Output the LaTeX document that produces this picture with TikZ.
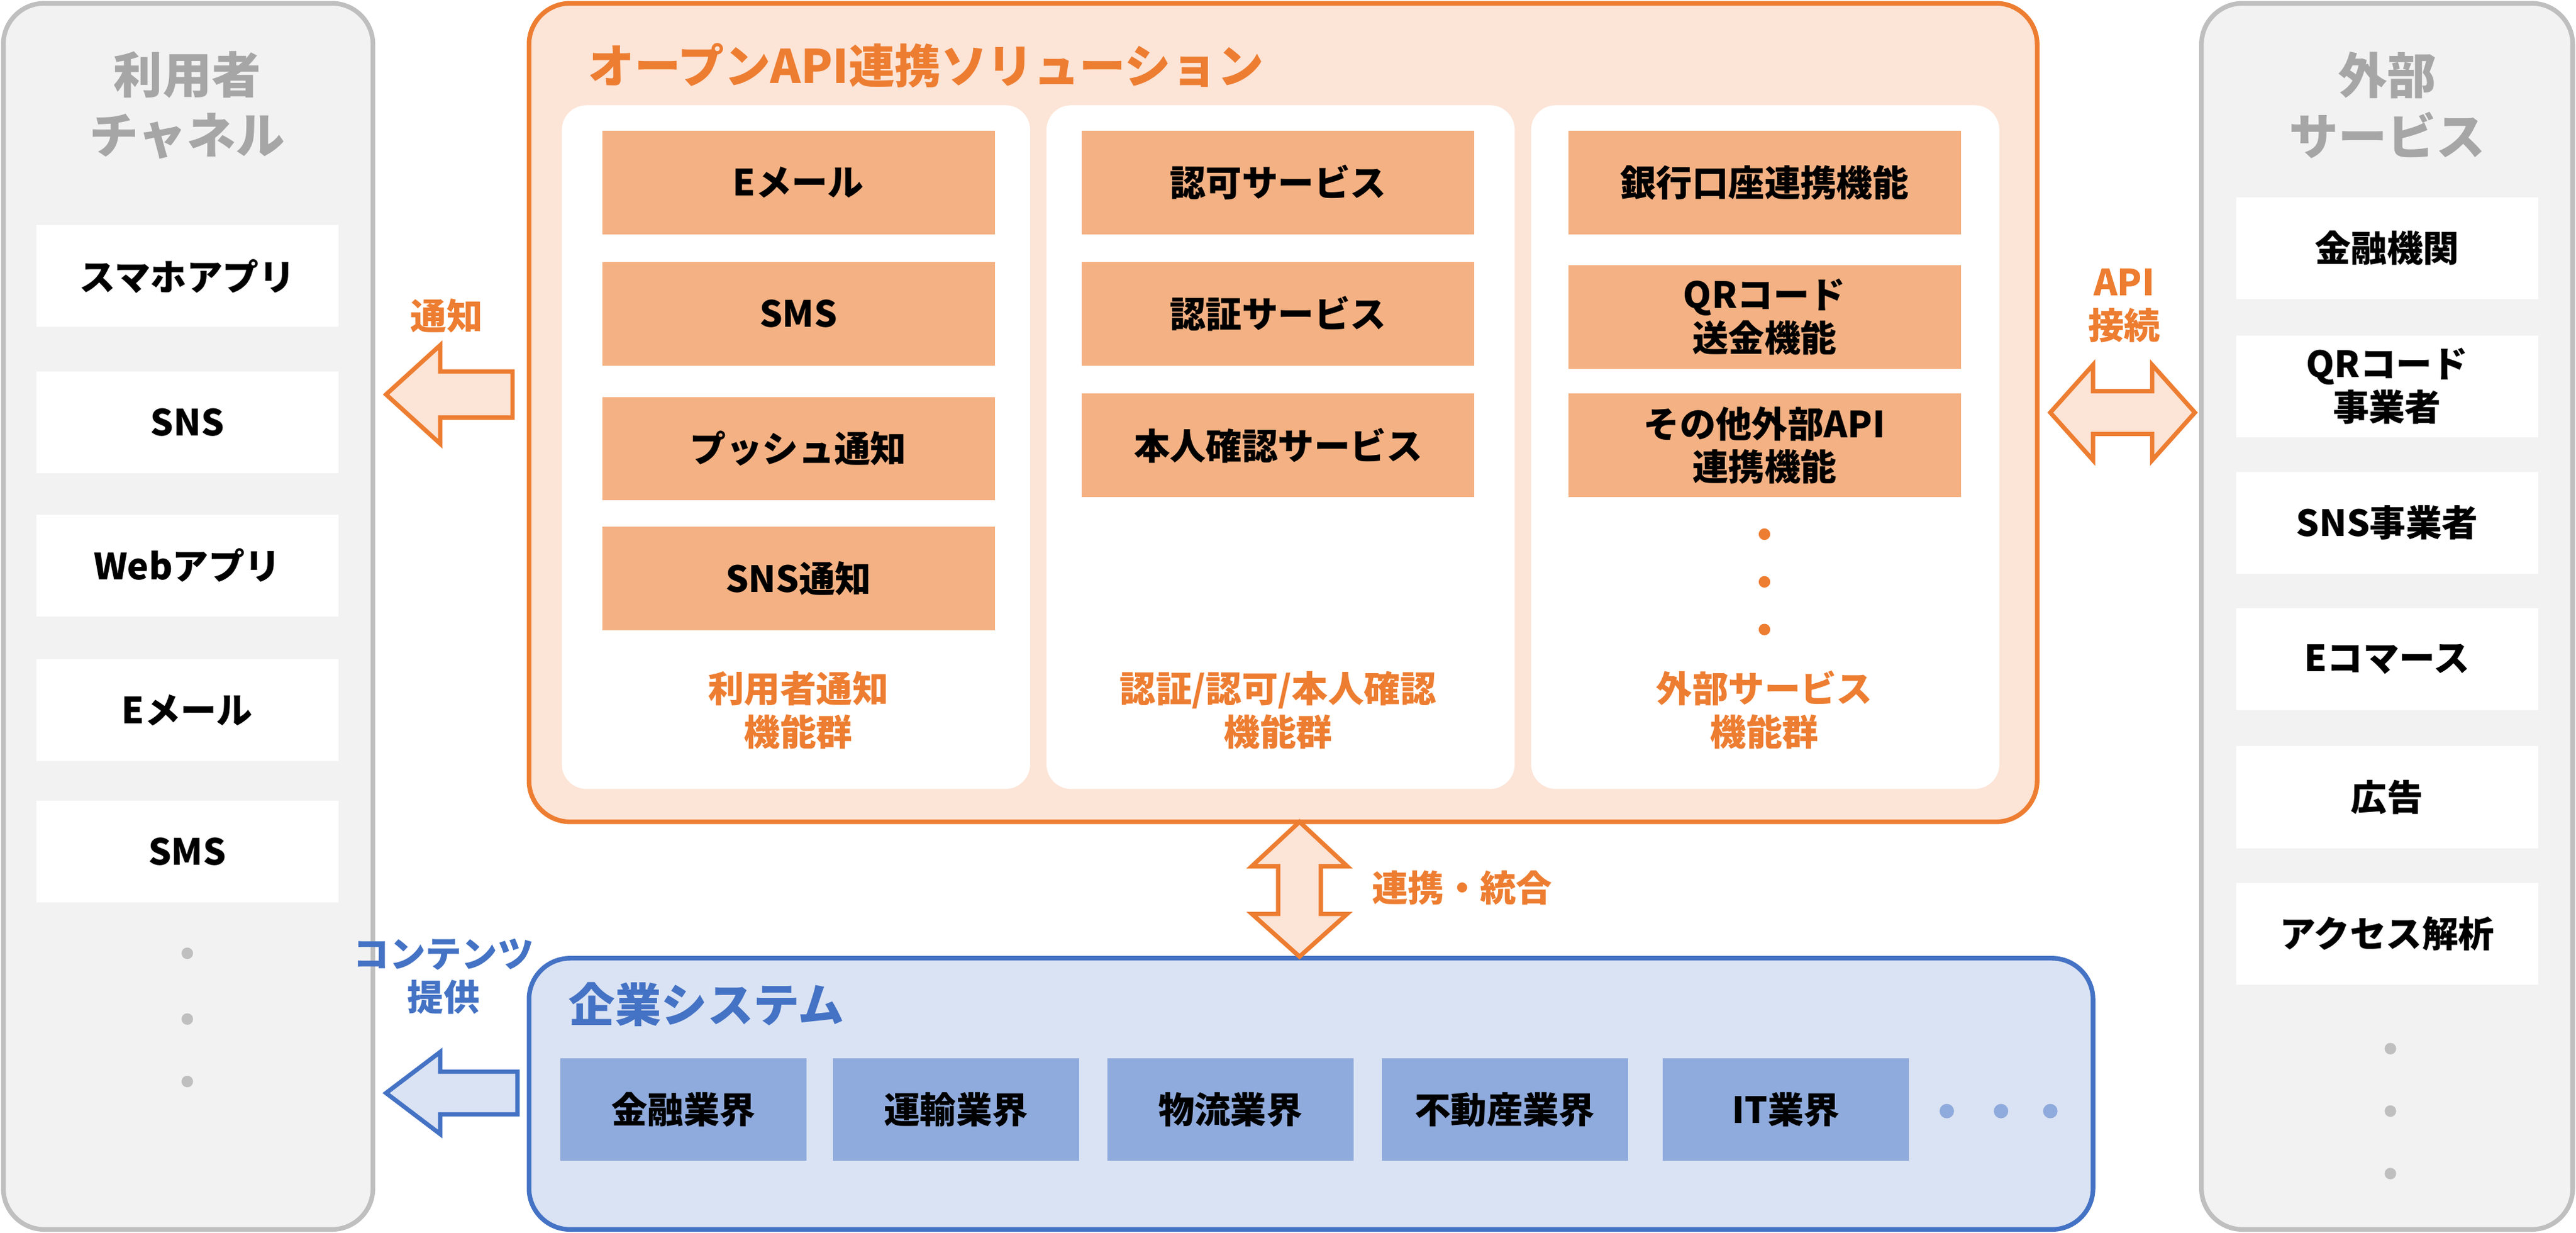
\documentclass[tikz,border=0pt]{standalone}
\usepackage{fontspec}
\setmainfont{Noto Sans CJK JP}
\begin{document}
\begin{tikzpicture}[x=0.02cm,y=-0.02cm,font=\bfseries]
\definecolor{og}{HTML}{ED7D31}\definecolor{ogl}{HTML}{FCE4D6}\definecolor{ogb}{HTML}{F4B183}
\definecolor{bl}{HTML}{4472C4}\definecolor{bll}{HTML}{DAE3F3}\definecolor{blb}{HTML}{8FAADC}
\definecolor{gr}{HTML}{BFBFBF}\definecolor{grl}{HTML}{F2F2F2}\definecolor{grt}{HTML}{A6A6A6}
\tikzset{panel/.style={rounded corners=0.5cm,line width=1.6pt},
wbox/.style={fill=white,draw=none,minimum width=3.68cm,minimum height=1.24cm,font=\fontsize{12.5}{15}\bfseries,align=center},
obox/.style={fill=ogb,draw=none,minimum width=4.78cm,minimum height=1.26cm,font=\fontsize{12.5}{15}\bfseries,align=center},
bbox/.style={fill=blb,draw=none,minimum width=3cm,minimum height=1.24cm,font=\fontsize{12.5}{15}\bfseries,align=center},
dot/.style={circle,fill=gr,inner sep=0,minimum size=4pt},
odot/.style={circle,fill=og,inner sep=0,minimum size=4pt},
bdot/.style={circle,fill=blb,inner sep=0,minimum size=5pt},
lbl/.style={font=\fontsize{12.5}{15}\bfseries,align=center,text=og}}
\useasboundingbox (0,0) rectangle (1568,750);
% left panel
\draw[panel,fill=grl,draw=gr] (2,2) rectangle (227,748);
\node[text=grt,font=\fontsize{17}{21}\bfseries,align=center] (lt) at (114,64) {利用者\\チャネル};
\foreach \n/\y/\t in {l1/168/スマホアプリ,l2/257/SNS,l3/344/Webアプリ,l4/432/Eメール,l5/518/SMS}
 \node[wbox] (\n) at (114,\y) {\t};
\foreach \y [count=\i] in {580,620,658} \node[dot] (ld\i) at (114,\y) {};
% right panel
\draw[panel,fill=grl,draw=gr] (1340,2) rectangle (1566,748);
\node[text=grt,font=\fontsize{17}{21}\bfseries,align=center] (rt) at (1453,64) {外部\\サービス};
\foreach \n/\y/\t in {r1/151/金融機関,r2/235/{QRコード\\事業者},r3/318/SNS事業者,r4/401/Eコマース,r5/485/広告,r6/568/アクセス解析}
 \node[wbox] (\n) at (1453,\y) {\t};
\foreach \y [count=\i] in {638,676,714} \node[dot] (rd\i) at (1455,\y) {};
% orange panel
\draw[panel,fill=ogl,draw=og] (322,2) rectangle (1240,500);
\node[anchor=west,text=og,font=\fontsize{16}{20}\bfseries] (ot) at (352,40) {オープンAPI連携ソリューション};
\foreach \x in {342,637,932} \fill[white,rounded corners=0.3cm] (\x,64) rectangle ++(285,416);
\foreach \n/\y/\t in {a1/111/Eメール,a2/191/SMS,a3/273/プッシュ通知,a4/352/SNS通知}
 \node[obox] (\n) at (486,\y) {\t};
\foreach \n/\y/\t in {b1/111/認可サービス,b2/191/認証サービス,b3/271/本人確認サービス}
 \node[obox] (\n) at (778,\y) {\t};
\foreach \n/\y/\t in {c1/111/銀行口座連携機能,c2/193/{QRコード\\送金機能},c3/271/{その他外部API\\連携機能}}
 \node[obox] (\n) at (1074,\y) {\t};
\foreach \y [count=\i] in {325,354,383} \node[odot] (cd\i) at (1074,\y) {};
\node[lbl] (la) at (486,432) {利用者通知\\機能群};
\node[lbl] (lb) at (778,432) {認証/認可/本人確認\\機能群};
\node[lbl] (lc) at (1074,432) {外部サービス\\機能群};
% blue panel
\draw[panel,fill=bll,draw=bl] (322,583) rectangle (1274,748);
\node[anchor=west,text=bl,font=\fontsize{16}{20}\bfseries] (bt) at (340,611) {企業システム};
\foreach \n/\x/\t in {e1/416/金融業界,e2/582/運輸業界,e3/749/物流業界,e4/916/不動産業界,e5/1087/IT業界}
 \node[bbox] (\n) at (\x,675) {\t};
\foreach \x [count=\i] in {1185,1218,1248} \node[bdot] (ed\i) at (\x,676) {};
% arrows
\draw[og,fill=ogl,line width=1.5pt,line join=miter] (235,240)--(268,210)--(268,226)--(312,226)--(312,254)--(268,254)--(268,270)--cycle;
\node[lbl] (n1) at (272,192) {通知};
\draw[og,fill=ogl,line width=1.5pt] (1248,251)--(1274,222)--(1274,238)--(1310,238)--(1310,222)--(1336,251)--(1310,280)--(1310,264)--(1274,264)--(1274,280)--cycle;
\node[lbl] (n2) at (1293,186) {API\\接続};
\draw[og,fill=ogl,line width=1.5pt] (791,500)--(820,527)--(804,527)--(804,556)--(820,556)--(791,582)--(762,556)--(778,556)--(778,527)--(762,527)--cycle;
\node[lbl] (n3) at (890,540) {連携・統合};
\draw[bl,fill=bll,line width=1.5pt] (235,665)--(268,640)--(268,652)--(315,652)--(315,678)--(268,678)--(268,690)--cycle;
\node[lbl,text=bl] (n4) at (270,594) {コンテンツ\\提供};
\end{tikzpicture}
\end{document}
